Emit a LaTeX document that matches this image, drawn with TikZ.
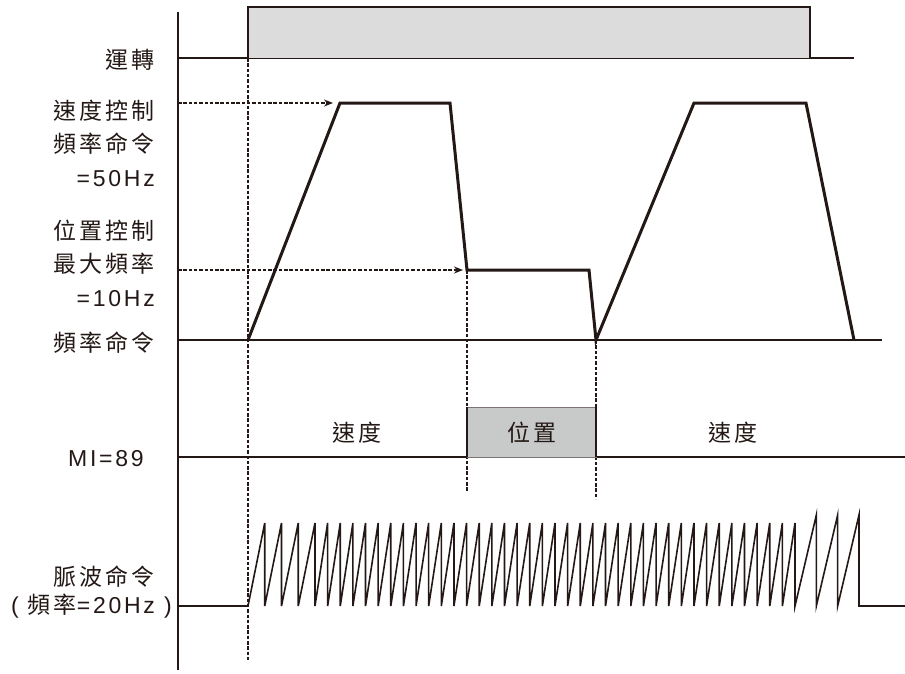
\documentclass[tikz,border=0pt]{standalone}
\usepackage{fontspec}
\setmainfont{Liberation Sans}[LetterSpace=12]
\newfontfamily\cjk{Noto Sans CJK TC}[LetterSpace=13]
\definecolor{ink}{RGB}{35,24,21}
\definecolor{runGray}{RGB}{220,220,220}
\definecolor{posGray}{RGB}{200,202,202}
\usetikzlibrary{arrows.meta}

\begin{document}
\begin{tikzpicture}[x=1pt, y=-1pt,
  lbl/.style={anchor=east, inner sep=0pt, align=right, text=ink,
              font=\fontsize{23}{33.5}\selectfont},
  mode/.style={inner sep=0pt, text=ink, font=\fontsize{23}{25}\selectfont},
  sig/.style={ink, line width=2pt},
  freq/.style={ink, line width=3pt},
  guide/.style={ink, line width=1.8pt, dash pattern=on 3.5pt off 1.8pt},
  arr/.style={guide, -{Stealth[length=9pt,width=7pt]}},
  pulse/.style={ink, line width=1.6pt}
]
  \useasboundingbox (0,0) rectangle (905,673);

  % time axis
  \draw[sig] (178,12) -- (178,670);

  % run signal
  \coordinate (runOn)  at (248,58);
  \coordinate (runOff) at (810,58);
  \fill[runGray] (248,7) rectangle (runOff);
  \draw[ink, line width=0.8pt] (runOn) -- (runOff);
  \draw[sig] (178,58) -- (runOn) -- (248,7) -- (810,7) -- (runOff) -- (854,58);

  % frequency command
  \coordinate (accTop)  at (340,103);
  \coordinate (decTop)  at (450,103);
  \coordinate (posIn)   at (467,270);
  \coordinate (posEnd)  at (589,270);
  \coordinate (posOut)  at (596,340);
  \draw[sig] (178,340) -- (882,340);
  \draw[freq] (248,340) -- (accTop) -- (decTop) -- (posIn) -- (posEnd) -- (posOut)
    -- (694,103) -- (806,103) -- (854,340);
  \draw[arr] (178,103) -- ([xshift=-7pt]accTop);
  \draw[arr] (178,270) -- ([xshift=-4pt]posIn);

  % guides
  \draw[guide] (runOn) -- (248,662);
  \draw[guide] (posIn) -- (467,492);
  \draw[guide] (posOut) -- (596,499);

  % MI=89 mode
  \draw[sig] (178,457) -- (905,457);
  \filldraw[fill=posGray, draw=ink!60, line width=0.8pt] (467,407) rectangle (596,457);
  \draw[sig] (467,457) -- (467,407) (596,407) -- (596,457);

  % pulse command
  \draw[pulse] (178,606) -- (248,606)
    foreach \k in {1,...,4} { -- ({248+16.75*\k},523) -- ({248+16.75*\k},606) }
    foreach \k in {1,...,38} { -- ({315+12.632*\k},523) -- ({315+12.632*\k},606) }
    foreach \k in {1,2,3} { -- ({795+21.33*\k},515) -- ({795+21.33*\k},606) }
    -- (905,606);

  % labels
  \node[lbl] (run)       at (155,60)  {\cjk 運轉};
  \node[lbl] (spdCmd)    at (155,143) {{\cjk 速度控制}\\{\cjk 頻率命令}\\=50Hz};
  \node[lbl] (posMax)    at (155,263) {{\cjk 位置控制}\\{\cjk 最大頻率}\\=10Hz};
  \node[lbl] (freqCmd)   at (155,343) {\cjk 頻率命令};
  \node[lbl] (mi)        at (144,459) {MI=89};
  \node[lbl] (pulseCmd)  at (155,577) {\cjk 脈波命令};
  \node[lbl] (pulseFreq) at (172,606) {( {\cjk 頻率}=20Hz )};

  \node[mode] (spdA) at (357,433) {\cjk 速度};
  \node[mode] (pos)  at (532,433) {\cjk 位置};
  \node[mode] (spdB) at (733,433) {\cjk 速度};
\end{tikzpicture}
\end{document}
